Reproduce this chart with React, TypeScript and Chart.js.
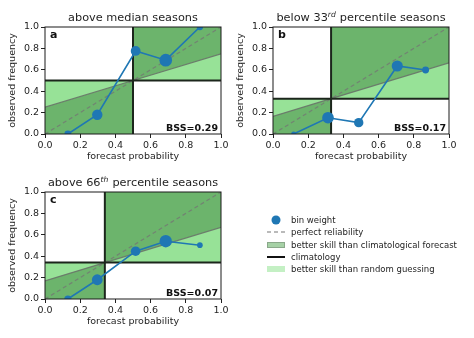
import React, { useEffect, useRef } from 'react';
import { Chart, registerables } from 'chart.js';
Chart.register(...registerables);

// ---------- data ----------
const tickValues = [0, 0.2, 0.4, 0.6, 0.8, 1.0];
const panelLetters = ['a', 'b', 'c'];
const titleParts = [
  ['above median seasons', '', ''],
  ['below 33', 'rd', ' percentile seasons'],
  ['above 66', 'th', ' percentile seasons'],
];
const climatology = [0.5, 0.33, 0.34];
const bssValues = ['0.29', '0.17', '0.07'];

const forecastA = [0.13, 0.297, 0.515, 0.686, 0.88];
const observedA = [0.0, 0.18, 0.776, 0.69, 1.0];
const weightA = [12, 27, 24, 40, 10];

const forecastB = [0.117, 0.3125, 0.487, 0.706, 0.867];
const observedB = [0.0, 0.152, 0.106, 0.636, 0.598];
const weightB = [6, 34, 22, 31, 12];

const forecastC = [0.13, 0.297, 0.515, 0.686, 0.88];
const observedC = [0.0, 0.18, 0.447, 0.54, 0.503];
const weightC = [13, 29, 23, 38, 8];

const legendLabels = [
  'bin weight',
  'perfect reliability',
  'better skill than climatological forecast',
  'climatology',
  'better skill than random guessing',
];

// ---------- styles ----------
const FONT = "'DejaVu Sans', sans-serif";
const TEXT = '#1e1e1e';
const DARK = '#6cb46c';
const LIGHT = '#97e297';
const BLUE = '#1f77b4';
const NOSKILL = 'rgba(105,115,105,0.9)';
const PERFECT = 'rgba(115,125,115,0.9)';
const CLIM = '#1c261c';

function buildDatasets(c: number, fx: number[], oy: number[], w: number[]) {
  const noSkill = (x: number) => c + (x - c) / 2;
  const base = { showLine: true, pointRadius: 0, pointHoverRadius: 0 };
  return [
    {
      ...base,
      label: 'bin weight',
      data: fx.map((x, i) => ({ x, y: oy[i] })),
      borderColor: BLUE,
      backgroundColor: BLUE,
      borderWidth: 1.6,
      pointRadius: w.map((v) => Math.sqrt(v)),
      pointBorderWidth: 0,
      pointBackgroundColor: BLUE,
      order: 0,
    },
    {
      ...base,
      label: 'climatology',
      data: [{ x: 0, y: c }, { x: 1, y: c }],
      borderColor: CLIM,
      borderWidth: 2,
      order: 1,
    },
    {
      ...base,
      label: 'climatology v',
      data: [{ x: c, y: 0 }, { x: c, y: 1 }],
      borderColor: CLIM,
      borderWidth: 2,
      order: 1,
    },
    {
      ...base,
      label: 'perfect reliability',
      data: [{ x: 0, y: 0 }, { x: 1, y: 1 }],
      borderColor: PERFECT,
      borderDash: [4, 3],
      borderWidth: 1.2,
      order: 2,
    },
    {
      ...base,
      label: 'skill low',
      data: [{ x: 0, y: noSkill(0) }, { x: c, y: c }],
      fill: { value: 0 },
      backgroundColor: DARK,
      borderColor: NOSKILL,
      borderWidth: 1.2,
      order: 3,
    },
    {
      ...base,
      label: 'skill high',
      data: [{ x: c, y: c }, { x: 1, y: noSkill(1) }],
      fill: { value: 1 },
      backgroundColor: DARK,
      borderColor: NOSKILL,
      borderWidth: 1.2,
      order: 3,
    },
    {
      ...base,
      label: 'random low',
      data: [{ x: 0, y: c }, { x: c, y: c }],
      fill: { value: 0 },
      backgroundColor: LIGHT,
      borderColor: 'transparent',
      borderWidth: 1,
      order: 4,
    },
    {
      ...base,
      label: 'random high',
      data: [{ x: c, y: 1 }, { x: 1, y: 1 }],
      fill: { value: c },
      backgroundColor: LIGHT,
      borderColor: 'transparent',
      borderWidth: 1,
      order: 4,
    },
  ];
}

function makeDecor(idx: number) {
  return {
    id: 'decor' + idx,
    afterDatasetsDraw(chart: any) {
      const { ctx, chartArea } = chart;
      const { left, top, right, bottom } = chartArea;
      ctx.save();
      ctx.strokeStyle = '#1a1a1a';
      ctx.lineWidth = 1;
      ctx.strokeRect(left, top, right - left, bottom - top);
      // panel letter
      ctx.fillStyle = '#111';
      ctx.font = `bold 11px ${FONT}`;
      ctx.textAlign = 'left';
      ctx.textBaseline = 'alphabetic';
      ctx.fillText(panelLetters[idx], left + 5, top + 10.5);
      // BSS
      ctx.font = `bold 9.5px ${FONT}`;
      ctx.textAlign = 'right';
      ctx.fillText('BSS=' + bssValues[idx], right - 3, bottom - 3.5);
      // title with superscript
      const [p1, sup, p2] = titleParts[idx];
      const mainFont = `11.3px ${FONT}`;
      const supFont = `italic 7.6px ${FONT}`;
      ctx.font = mainFont;
      const w1 = ctx.measureText(p1).width;
      const w3 = ctx.measureText(p2).width;
      ctx.font = supFont;
      const w2 = sup ? ctx.measureText(sup).width + 0.5 : 0;
      const total = w1 + w2 + w3;
      let x = (left + right) / 2 - total / 2;
      const y = top - 6;
      ctx.fillStyle = TEXT;
      ctx.textAlign = 'left';
      ctx.textBaseline = 'alphabetic';
      ctx.font = mainFont;
      ctx.fillText(p1, x, y);
      x += w1;
      if (sup) {
        ctx.font = supFont;
        ctx.fillText(sup, x, y - 4.5);
        x += w2;
      }
      ctx.font = mainFont;
      ctx.fillText(p2, x, y);
      ctx.restore();
    },
  };
}

function axisOptions(title: string, isX: boolean) {
  return {
    type: 'linear',
    min: 0,
    max: 1,
    afterBuildTicks: (scale: any) => {
      scale.ticks = tickValues.map((v) => ({ value: v }));
    },
    afterFit: (scale: any) => {
      if (isX) scale.height = 35;
      else scale.width = 45;
    },
    ticks: {
      autoSkip: false,
      maxRotation: 0,
      padding: 2,
      color: TEXT,
      font: { family: FONT, size: 9.5 },
      callback: (v: any) => Number(v).toFixed(1),
    },
    grid: {
      drawOnChartArea: false,
      drawTicks: true,
      tickLength: 4,
      color: '#222',
      lineWidth: 1,
    },
    border: { display: false },
    title: {
      display: true,
      text: title,
      color: TEXT,
      font: { family: FONT, size: 9.5 },
      padding: isX ? { top: 0, bottom: 6.6 } : { top: 7.3, bottom: 0 },
    },
  };
}

function Panel({ idx, left, top, fx, oy, w }: any) {
  const ref = useRef<HTMLCanvasElement | null>(null);
  useEffect(() => {
    if (!ref.current) return;
    const chart = new Chart(ref.current, {
      type: 'scatter',
      data: { datasets: buildDatasets(climatology[idx], fx, oy, w) as any },
      options: {
        responsive: false,
        animation: false,
        events: [],
        layout: { padding: { top: 27, right: 16, bottom: 0, left: 0 } },
        plugins: { legend: { display: false }, tooltip: { enabled: false } },
        scales: {
          x: axisOptions('forecast probability', true) as any,
          y: axisOptions('observed frequency', false) as any,
        },
      },
      plugins: [makeDecor(idx)],
    });
    return () => chart.destroy();
  }, []);
  return (
    <canvas
      ref={ref}
      width={237}
      height={169}
      style={{ position: 'absolute', left, top, width: 237, height: 169 }}
    />
  );
}

function LegendHandle({ i }: { i: number }) {
  if (i === 0)
    return (
      <svg width={20} height={12}>
        <circle cx={10} cy={6} r={4.5} fill={BLUE} />
      </svg>
    );
  if (i === 1)
    return (
      <svg width={20} height={12}>
        <line x1={1} y1={6} x2={19} y2={6} stroke="#777" strokeWidth={1.2} strokeDasharray="4 3" />
      </svg>
    );
  if (i === 3)
    return (
      <svg width={20} height={12}>
        <line x1={1} y1={6} x2={19} y2={6} stroke="#111" strokeWidth={2} />
      </svg>
    );
  if (i === 2)
    return (
      <svg width={20} height={12}>
        <rect x={1.5} y={3.5} width={17} height={5} fill="#a6d1a6" stroke="#8aa88a" strokeWidth={1} />
      </svg>
    );
  return (
    <svg width={20} height={12}>
      <rect x={1} y={3} width={18} height={6} fill="#c4f0c4" />
    </svg>
  );
}

export default function App() {
  return (
    <div
      style={{
        position: 'fixed',
        left: 0,
        top: 0,
        width: 474,
        height: 338,
        background: '#fff',
        overflow: 'hidden',
      }}
    >
      <Panel idx={0} left={0} top={0} fx={forecastA} oy={observedA} w={weightA} />
      <Panel idx={1} left={228} top={0} fx={forecastB} oy={observedB} w={weightB} />
      <Panel idx={2} left={0} top={165} fx={forecastC} oy={observedC} w={weightC} />
      {legendLabels.map((lab, i) => (
        <div
          key={lab}
          style={{
            position: 'absolute',
            left: 266,
            top: 220 + i * 12.25 - 6,
            height: 12,
            display: 'flex',
            alignItems: 'center',
            fontFamily: FONT,
            fontSize: 8.5,
            color: TEXT,
            whiteSpace: 'nowrap',
            lineHeight: '12px',
          }}
        >
          <LegendHandle i={i} />
          <span style={{ marginLeft: 5 }}>{lab}</span>
        </div>
      ))}
    </div>
  );
}
